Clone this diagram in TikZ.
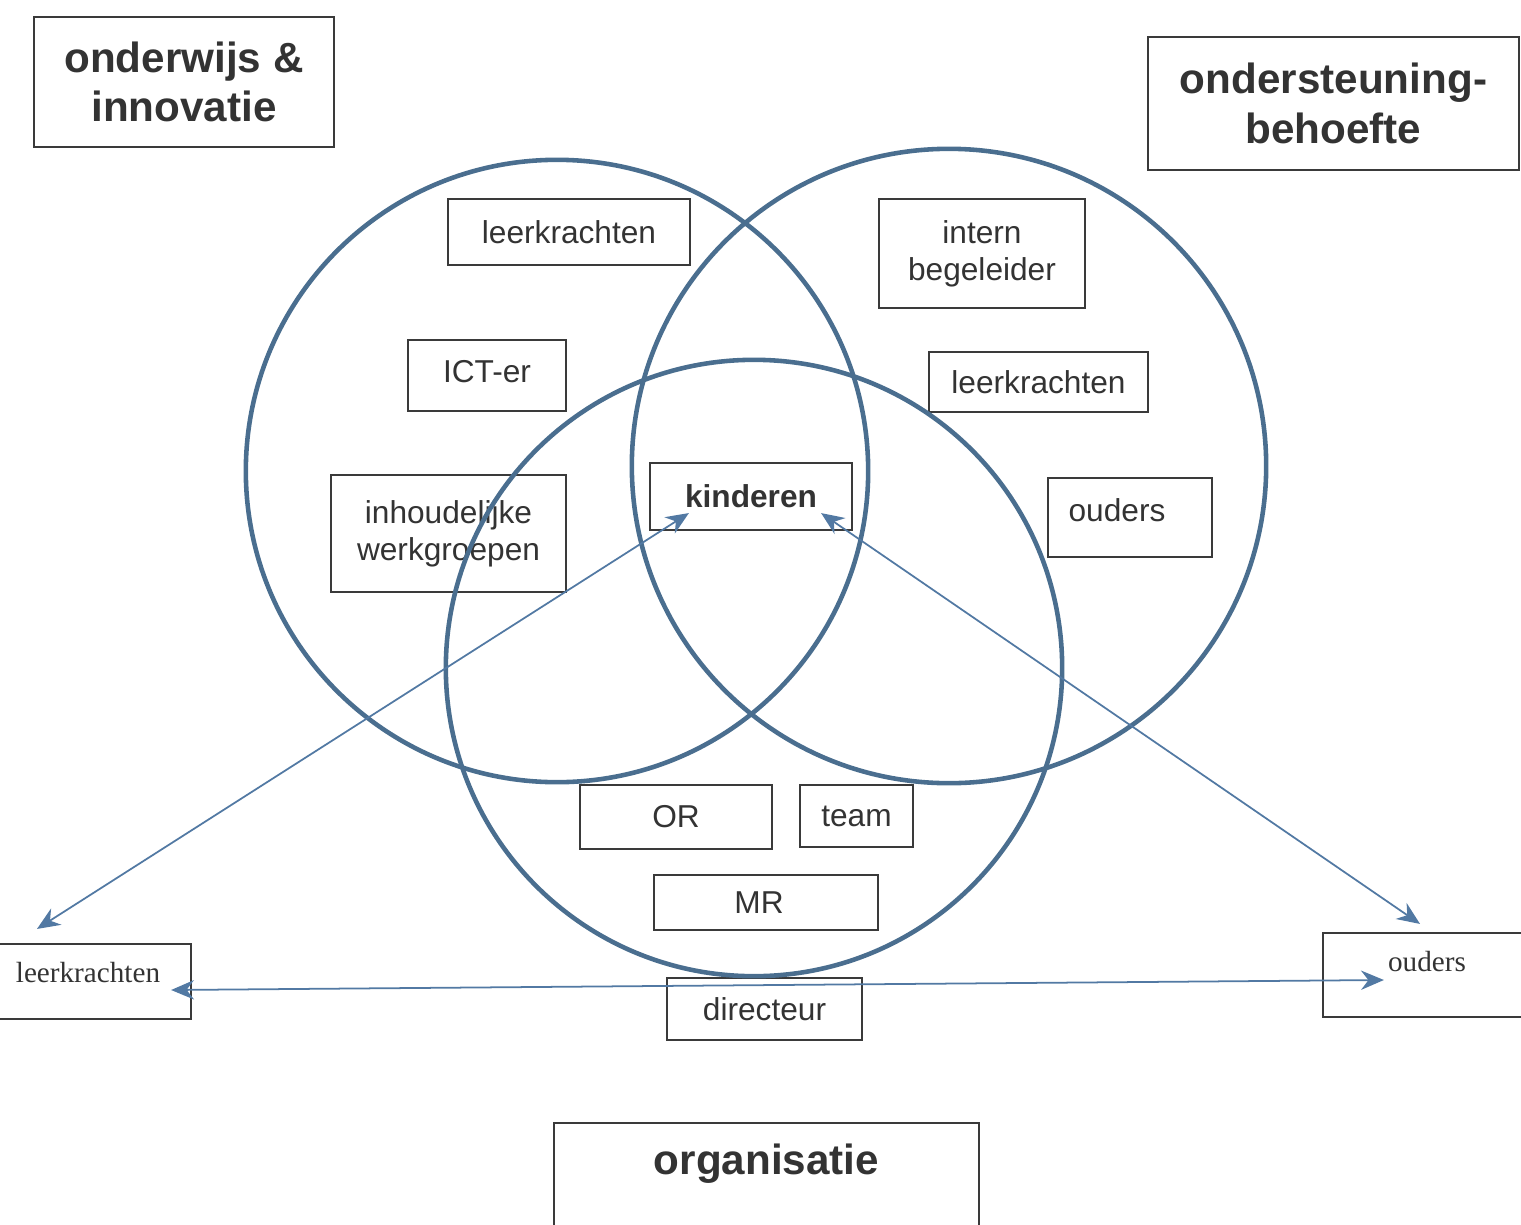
\documentclass[tikz,border=0pt]{standalone}
\usepackage{fontspec}
\setmainfont{Liberation Sans}
\newfontfamily\briefletter{Liberation Serif}
\usetikzlibrary{arrows.meta,calc}
\definecolor{ringblue}{HTML}{4A6E8F}
\definecolor{linkblue}{HTML}{5279A3}
\definecolor{boxgray}{HTML}{3A3A3A}
\definecolor{textgray}{HTML}{333333}
\tikzset{
  vak/.style={draw=boxgray, line width=0.6pt, text=textgray, inner sep=0pt, align=center, font=\fontsize{9}{10.5}\selectfont},
  titelvak/.style={vak, font=\fontsize{12}{14}\selectfont\bfseries},
  briefvak/.style={vak, font=\fontsize{8.3}{10}\selectfont\briefletter},
  ring/.style={draw=ringblue, line width=1.3pt},
  pijl/.style={draw=linkblue, line width=0.5pt, {Stealth[length=6.5pt,width=5.5pt]}-{Stealth[length=6.5pt,width=5.5pt]}},
}
\begin{document}
\begin{tikzpicture}[x=0.01cm, y=-0.01cm]
\useasboundingbox (0,0) rectangle (1521,1224);
%
% Titels
\node[titelvak, minimum width=3.00cm, minimum height=1.30cm] (onderwijs) at (184,82) {onderwijs \&\\innovatie};
\node[titelvak, minimum width=3.71cm, minimum height=1.33cm] (ondersteuning) at (1333.5,103.5) {ondersteuning-\\behoefte};
\node[titelvak, minimum width=4.25cm, anchor=north, text height=0.51cm, text depth=0.67cm] (organisatie) at (766.5,1122) {organisatie};
% Vakken cirkel 1
\node[vak, minimum width=2.42cm, minimum height=0.66cm] (lkA) at (569,232) {leerkrachten};
\node[vak, minimum width=1.58cm, text height=0.42cm, text depth=0.29cm] (ict) at (487,375.5) {ICT-er};
\node[vak, minimum width=2.35cm, minimum height=1.17cm] (werk) at (448.5,533.5) {inhoudelijke\\werkgroepen};
% Vakken cirkel 2
\node[vak, minimum width=2.06cm, minimum height=1.09cm] (ib) at (982,253.5) {intern\\begeleider};
\node[vak, minimum width=2.19cm, minimum height=0.60cm] (lkB) at (1038.5,382) {leerkrachten};
\node[vak, minimum width=1.64cm, text height=0.43cm, text depth=0.36cm] (oudA) at (1130,517.5) {ouders\hspace*{0.26cm}};
% Midden
\node[vak, minimum width=2.02cm, minimum height=0.67cm, font=\fontsize{9}{10.5}\selectfont\bfseries] (kind) at (751,496.5) {kinderen};
% Vakken cirkel 3
\node[vak, minimum width=1.92cm, minimum height=0.64cm] (or) at (676,817) {OR};
\node[vak, minimum width=1.13cm, minimum height=0.62cm] (team) at (856.5,816) {team};
\node[vak, minimum width=2.24cm, minimum height=0.55cm] (mr) at (766,902.5) {MR\hspace*{0.14cm}};
\node[vak, minimum width=1.95cm, minimum height=0.62cm] (dir) at (764.5,1009) {directeur};
% Buiten
\node[briefvak, minimum width=2.06cm, text height=0.385cm, text depth=0.365cm] (lkC) at (88,981.5) {leerkrachten};
\node[briefvak, minimum width=2.08cm, text height=0.38cm, text depth=0.46cm] (oudB) at (1427,975) {ouders};
%
% Cirkel 1
\draw[ring] (557,471) circle [radius=3.11cm];
% Cirkel 2
\draw[ring] (949,466) circle [radius=3.17cm];
% Cirkel 3
\draw[ring] (754,668) circle [radius=3.08cm];
%
%Pijl 1
\draw[pijl] ([shift={(-51,-14)}]lkC.north) -- ([shift={(40,-18)}]kind.south west);
%Pijl 2
\draw[pijl] ([shift={(-32,-18)}]kind.south east) -- ([shift={(-7,-8)}]oudB.north);
%Pijl 3
\draw[pijl] ([shift={(-21,8.5)}]lkC.east) -- ([shift={(62,5)}]oudB.west);
\end{tikzpicture}
\end{document}
